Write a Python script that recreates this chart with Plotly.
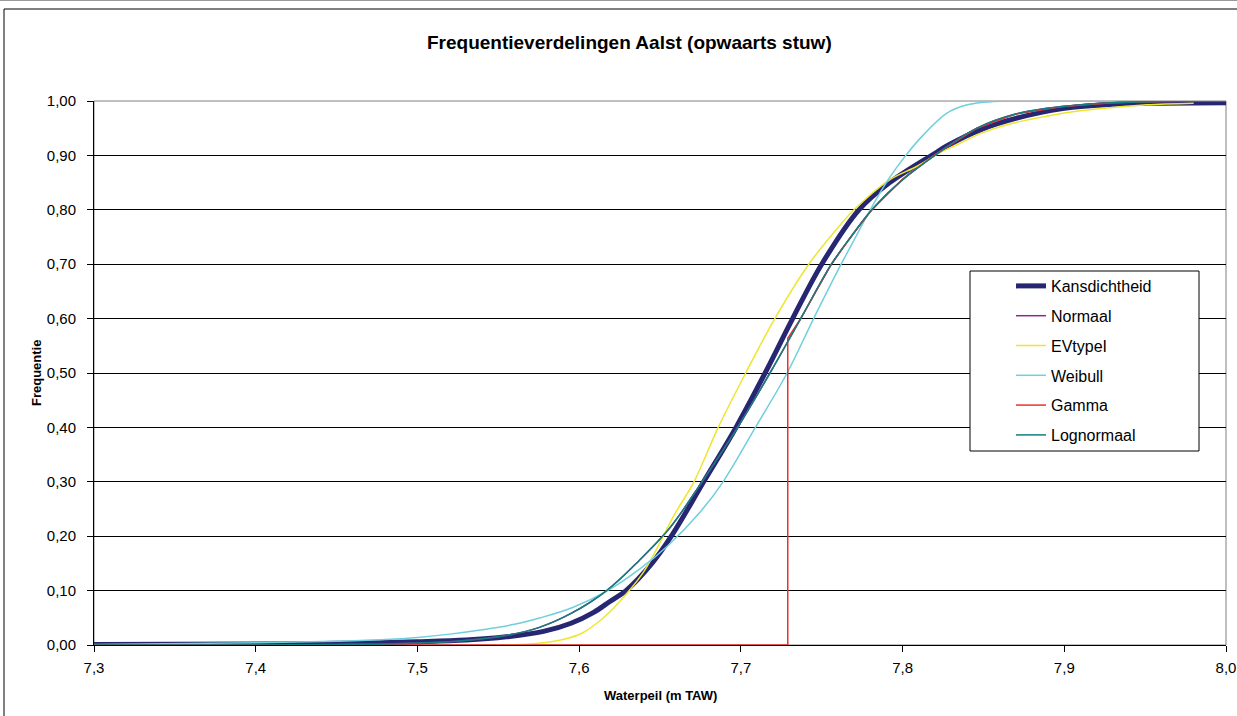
import plotly.graph_objects as go

# Waterpeil (m TAW) and cumulative frequency for each fitted distribution
kans_x = [7.30, 7.40, 7.45, 7.50, 7.53, 7.555, 7.578, 7.595, 7.609, 7.619, 7.629, 7.645, 7.657,
          7.677, 7.697, 7.715, 7.732, 7.750, 7.773, 7.792, 7.818, 7.829, 7.848, 7.870, 7.899,
          7.930, 7.960, 8.00]
kans_y = [0.001, 0.002, 0.003, 0.006, 0.009, 0.015, 0.025, 0.040, 0.060, 0.080, 0.100, 0.150, 0.200,
          0.300, 0.400, 0.500, 0.600, 0.700, 0.800, 0.850, 0.900, 0.920, 0.947, 0.968, 0.986,
          0.994, 0.996, 0.997]

normaal_x = [7.30, 7.40, 7.45, 7.48, 7.52, 7.55, 7.575, 7.595, 7.617, 7.637, 7.656, 7.676, 7.698,
             7.718, 7.737, 7.756, 7.768, 7.781, 7.800, 7.820, 7.846, 7.870, 7.899, 7.930, 7.960, 8.00]
normaal_y = [0.000, 0.000, 0.001, 0.002, 0.006, 0.015, 0.032, 0.058, 0.100, 0.155, 0.215, 0.300, 0.400,
             0.500, 0.600, 0.700, 0.750, 0.800, 0.856, 0.901, 0.950, 0.976, 0.990, 0.997, 0.999, 1.000]

evtype_x = [7.30, 7.558, 7.575, 7.590, 7.602, 7.613, 7.622, 7.631, 7.640, 7.645, 7.659, 7.671,
            7.686, 7.703, 7.721, 7.742, 7.758, 7.770, 7.792, 7.809, 7.823, 7.834, 7.848, 7.868,
            7.889, 7.910, 7.930, 7.951, 7.980]
evtype_y = [0.000, 0.000, 0.003, 0.010, 0.022, 0.045, 0.070, 0.100, 0.135, 0.160, 0.240, 0.300,
            0.400, 0.500, 0.600, 0.700, 0.760, 0.800, 0.855, 0.880, 0.905, 0.920, 0.940, 0.959,
            0.972, 0.982, 0.988, 0.993, 0.996]

weibull_x = [7.30, 7.40, 7.45, 7.48, 7.50, 7.52, 7.54, 7.56, 7.576, 7.596, 7.617, 7.638, 7.655,
             7.675, 7.689, 7.709, 7.7286, 7.745, 7.762, 7.771, 7.780, 7.791, 7.802, 7.812, 7.827,
             7.840, 7.856, 7.88, 8.00]
weibull_y = [0.001, 0.004, 0.007, 0.010, 0.014, 0.020, 0.028, 0.038, 0.050, 0.069, 0.099, 0.141, 0.183,
             0.245, 0.300, 0.400, 0.500, 0.600, 0.700, 0.750, 0.800, 0.855, 0.900, 0.935, 0.977,
             0.993, 0.999, 1.000, 1.000]

gamma_x = [7.30, 7.729, 7.729, 7.737, 7.756, 7.768, 7.781, 7.800, 7.820, 7.846, 7.870, 7.899,
           7.930, 7.960, 8.00]
gamma_y = [0.000, 0.000, 0.564, 0.600, 0.700, 0.750, 0.800, 0.856, 0.901, 0.950, 0.976, 0.990,
           0.997, 0.999, 1.000]

lognormaal_x = [7.30, 7.40, 7.45, 7.48, 7.52, 7.55, 7.575, 7.595, 7.617, 7.637, 7.656, 7.676, 7.698,
                7.718, 7.737, 7.756, 7.768, 7.781, 7.800, 7.820, 7.846, 7.870, 7.899, 7.930, 7.960, 8.00]
lognormaal_y = [0.000, 0.000, 0.001, 0.002, 0.006, 0.015, 0.032, 0.058, 0.100, 0.155, 0.215, 0.300,
                0.400, 0.500, 0.600, 0.700, 0.750, 0.800, 0.855, 0.900, 0.950, 0.976, 0.990, 0.997,
                0.999, 1.000]

FONT = "Liberation Sans, Arial, sans-serif"

series = [
    ("Kansdichtheid", kans_x, kans_y, "#262673", 5, "spline"),
    ("Normaal", normaal_x, normaal_y, "#8a2a8a", 1.5, "spline"),
    ("EVtypeI", evtype_x, evtype_y, "#EEE62E", 1.5, "spline"),
    ("Weibull", weibull_x, weibull_y, "#6FCFDC", 1.5, "spline"),
    ("Gamma", gamma_x, gamma_y, "#E8322E", 1.5, "linear"),
    ("Lognormaal", lognormaal_x, lognormaal_y, "#137E7E", 1.5, "spline"),
]

fig = go.Figure()
for i, (name, xs, ys, color, width, shape) in enumerate(series):
    line = dict(color=color, width=width, shape=shape)
    if shape == "spline":
        line["smoothing"] = 1.0
    fig.add_trace(go.Scatter(
        x=xs, y=ys, mode="lines", name=name, line=line,
        legendgroup=f"g{i}", hoverinfo="skip",
    ))

# plot-area geometry in pixels
W, H = 1237, 716
L, R, T, B = 94, 11, 101, 71
pw, ph = W - L - R, H - T - B


def px(xp):
    return (xp - L) / pw


def py(yp):
    return (H - B - yp) / ph


shapes = [
    # chart frame
    dict(type="rect", xref="paper", yref="paper", x0=px(4), x1=px(1260), y0=py(740), y1=py(9),
         line=dict(color="black", width=1), layer="below"),
    dict(type="line", xref="paper", yref="paper", x0=px(0), x1=px(1237), y0=py(0.5), y1=py(0.5),
         line=dict(color="#9a9a9a", width=1), layer="below"),
    # plot-area border
    dict(type="rect", xref="paper", yref="paper", x0=0, x1=1, y0=0, y1=1,
         line=dict(color="#808080", width=1), layer="below"),
    # legend box
    dict(type="rect", xref="paper", yref="paper", x0=px(970), x1=px(1199), y0=py(451), y1=py(271),
         line=dict(color="black", width=1), fillcolor="white", layer="above"),
]

annotations = [
    dict(text="<b>Frequentieverdelingen Aalst (opwaarts stuw)</b>", xref="paper", yref="paper",
         x=px(629), y=py(42), xanchor="center", yanchor="middle", showarrow=False,
         font=dict(family=FONT, size=19, color="black")),
    dict(text="<b>Frequentie</b>", xref="paper", yref="paper", x=px(36), y=0.5, textangle=-90,
         xanchor="center", yanchor="middle", showarrow=False,
         font=dict(family=FONT, size=13, color="black")),
    dict(text="<b>Waterpeil (m TAW)</b>", xref="paper", yref="paper", x=px(660), y=py(695),
         xanchor="center", yanchor="middle", showarrow=False,
         font=dict(family=FONT, size=13, color="black")),
]

fig.update_layout(
    width=W, height=H,
    margin=dict(l=L, r=R, t=T, b=B, pad=0, autoexpand=False),
    paper_bgcolor="white", plot_bgcolor="white",
    separators=",.",
    font=dict(family=FONT, size=15, color="black"),
    showlegend=True,
    legend=dict(
        x=px(1011), y=py(269), xanchor="left", yanchor="top",
        bgcolor="rgba(0,0,0,0)", borderwidth=0,
        font=dict(family=FONT, size=16, color="black"),
        traceorder="grouped", tracegroupgap=6, itemwidth=30,
    ),
    xaxis=dict(
        range=[7.3, 8.0], tickmode="linear", tick0=7.3, dtick=0.1, tickformat=".1f",
        showgrid=False, zeroline=False, showline=True, linecolor="black", linewidth=1,
        ticks="outside", ticklen=6, tickcolor="black", layer="below traces",
        automargin=False, ticklabelstandoff=3,
        tickfont=dict(family=FONT, size=15, color="black"),
    ),
    yaxis=dict(
        range=[0, 1.0], tickmode="linear", tick0=0, dtick=0.1, tickformat=".2f",
        showgrid=True, gridcolor="black", gridwidth=1, zeroline=False,
        showline=True, linecolor="black", linewidth=1,
        ticks="outside", ticklen=6, tickcolor="black", layer="below traces",
        automargin=False, ticklabelstandoff=8,
        tickfont=dict(family=FONT, size=15, color="black"),
    ),
    shapes=shapes,
    annotations=annotations,
)

fig.write_html("out.html")
